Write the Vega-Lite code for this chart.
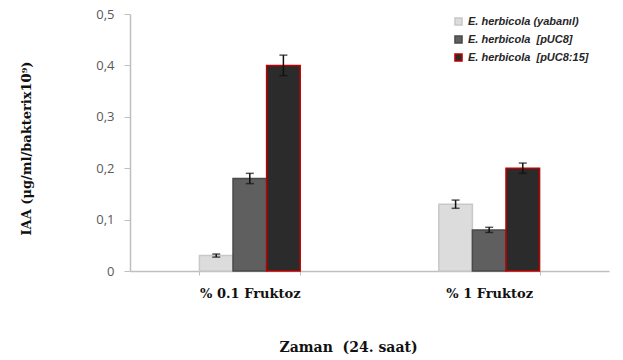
{
  "$schema": "https://vega.github.io/schema/vega-lite/v6.json",
  "width": 479,
  "height": 257,
  "autosize": {"type": "none"},
  "padding": {"left": 130, "top": 14, "right": 14, "bottom": 89},
  "background": "white",
  "config": {"view": {"stroke": null}},
  "data": {"values": [
    {"grp": "% 0.1 Fruktoz", "series": "E. herbicola (yabanıl)", "v": 0.03, "lo": 0.027, "hi": 0.033},
    {"grp": "% 0.1 Fruktoz", "series": "E. herbicola  [pUC8]", "v": 0.18, "lo": 0.17, "hi": 0.19},
    {"grp": "% 0.1 Fruktoz", "series": "E. herbicola  [pUC8:15]", "v": 0.40, "lo": 0.38, "hi": 0.42},
    {"grp": "% 1 Fruktoz", "series": "E. herbicola (yabanıl)", "v": 0.13, "lo": 0.122, "hi": 0.138},
    {"grp": "% 1 Fruktoz", "series": "E. herbicola  [pUC8]", "v": 0.08, "lo": 0.075, "hi": 0.085},
    {"grp": "% 1 Fruktoz", "series": "E. herbicola  [pUC8:15]", "v": 0.20, "lo": 0.19, "hi": 0.21}
  ]},
  "encoding": {
    "x": {
      "field": "grp", "type": "nominal", "sort": null,
      "scale": {"paddingInner": 0.579, "paddingOuter": 0.29},
      "axis": {
        "title": "Zaman\u00a0\u00a0(24. saat)",
        "titleFont": "DejaVu Serif", "titleFontSize": 14, "titleFontWeight": "bold", "titleColor": "#111",
        "titleX": 218, "titleY": 69, "titleBaseline": "top",
        "labelFont": "DejaVu Serif", "labelFontSize": 13, "labelFontWeight": "bold", "labelColor": "#111",
        "labelAngle": 0, "labelPadding": 12,
        "tickBand": "extent", "tickSize": 4, "tickColor": "#bfbfbf",
        "domainColor": "#bfbfbf", "domainWidth": 1.5, "grid": false
      }
    },
    "xOffset": {"field": "series", "type": "nominal", "sort": null,
      "scale": {"paddingInner": 0, "paddingOuter": 0}}
  },
  "layer": [
    {
      "mark": {"type": "bar", "strokeWidth": 1.5},
      "encoding": {
        "y": {
          "field": "v", "type": "quantitative",
          "scale": {"domain": [0, 0.5]},
          "axis": {
            "title": "IAA (μg/ml/bakterix10⁹)",
            "titleFont": "DejaVu Serif", "titleFontSize": 13, "titleFontWeight": "bold", "titleColor": "#111",
            "titleX": -97, "titleY": 134, "titleAlign": "center", "titleBaseline": "bottom", "titleAngle": -90,
            "values": [0, 0.1, 0.2, 0.3, 0.4, 0.5],
            "labelExpr": "replace(format(datum.value, '.1~f'), '.', ',')",
            "labelFont": "Open Sans", "labelFontSize": 13, "labelColor": "#595959", "labelPadding": 10,
            "tickSize": 6, "tickColor": "#bfbfbf", "domainColor": "#bfbfbf", "domainWidth": 1.5, "grid": false
          }
        },
        "color": {
          "field": "series", "type": "nominal", "sort": null,
          "scale": {"range": ["#dcdcdc", "#5f5f5f", "#2b2b2b"]},
          "legend": {
            "title": null, "orient": "none", "legendX": 323, "legendY": 2,
            "symbolType": "square", "symbolSize": 50, "rowPadding": 3,
            "labelFont": "Liberation Sans", "labelFontSize": 11, "labelFontStyle": "italic", "labelFontWeight": "bold",
            "labelColor": "#262626", "labelLimit": 200,
            "labelExpr": "replace(datum.label, '  ', '\u00a0\u00a0')"
          }
        },
        "stroke": {
          "field": "series", "type": "nominal", "sort": null,
          "scale": {"range": ["#c8c8c8", "#4a4a4a", "#c00000"]}
        }
      }
    },
    {
      "mark": {"type": "rule", "color": "#111", "strokeWidth": 1.5},
      "encoding": {"y": {"field": "lo", "type": "quantitative"}, "y2": {"field": "hi"}}
    },
    {
      "mark": {"type": "tick", "color": "#111", "size": 8, "thickness": 1.5},
      "encoding": {"y": {"field": "lo", "type": "quantitative"}}
    },
    {
      "mark": {"type": "tick", "color": "#111", "size": 8, "thickness": 1.5},
      "encoding": {"y": {"field": "hi", "type": "quantitative"}}
    }
  ]
}
